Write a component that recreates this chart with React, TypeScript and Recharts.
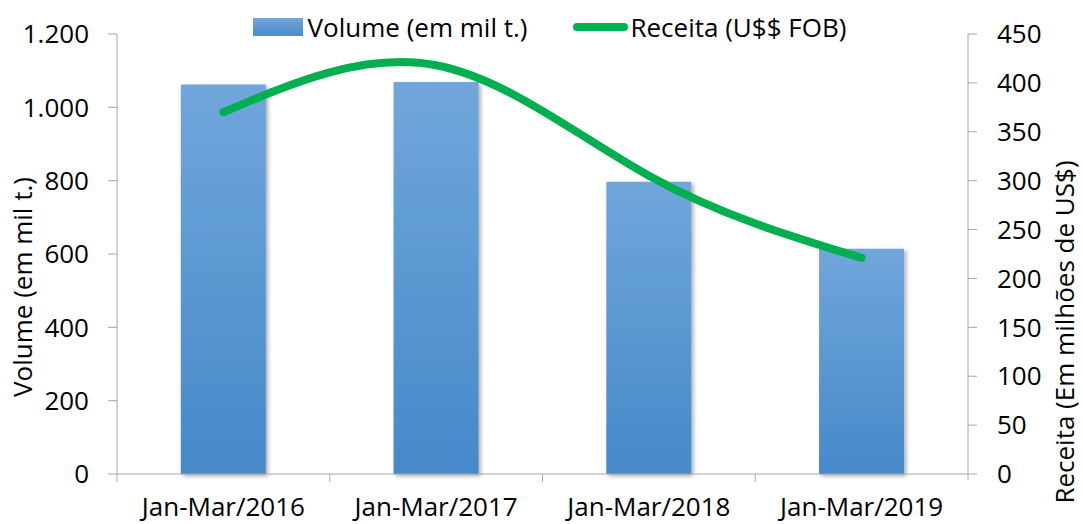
import React from "react";
import { ComposedChart, Bar, Line, XAxis, YAxis, Legend } from "recharts";

const categories = ["Jan-Mar/2016", "Jan-Mar/2017", "Jan-Mar/2018", "Jan-Mar/2019"];
const volume = [1062, 1069, 797, 614];
const receita = [370, 418, 305, 221];
const leftTicks = [0, 200, 400, 600, 800, 1000, 1200];
const rightTicks = [0, 50, 100, 150, 200, 250, 300, 350, 400, 450];

const volumeName = "Volume (em mil t.)";
const receitaName = "Receita (U$$ FOB)";
const leftTitle = "Volume (em mil t.)";
const rightTitle = "Receita (Em milhões de US$)";

const data = categories.map((c, i) => ({ cat: c, volume: volume[i], receita: receita[i] }));

const FONT = "'Open Sans', 'Noto Sans', sans-serif";
const FS = 26;
const AXIS = "#a6a6a6";
const GREEN = "#00B050";

const fmtThousands = (v: number) => v.toString().replace(/\B(?=(\d{3})+(?!\d))/g, ".");

const XTick = (props: any) => {
  const { x, y, payload, index, width } = props;
  const half = width / (categories.length * 2);
  const axisY = y;
  return (
    <g>
      <line x1={x - half} x2={x - half} y1={axisY} y2={axisY + 8} stroke={AXIS} strokeWidth={1} />
      {index === categories.length - 1 && (
        <line x1={x + half} x2={x + half} y1={axisY} y2={axisY + 6} stroke={AXIS} strokeWidth={1} />
      )}
      <text x={x} y={axisY + 42} textAnchor="middle" fontSize={FS} fontFamily={FONT} fill="#000">
        {payload.value}
      </text>
    </g>
  );
};

const LeftLabel = (props: any) => {
  const { viewBox } = props;
  const cx = viewBox.x + 22;
  const cy = viewBox.y + viewBox.height / 2 + 33;
  return (
    <text x={cx} y={cy} transform={`rotate(-90, ${cx}, ${cy})`} textAnchor="middle" dominantBaseline="central" fontSize={FS} fontFamily={FONT} fill="#000">
      {leftTitle}
    </text>
  );
};

const RightLabel = (props: any) => {
  const { viewBox } = props;
  const cx = viewBox.x + 96;
  const cy = viewBox.y + viewBox.height / 2 + 78;
  return (
    <text x={cx} y={cy} transform={`rotate(-90, ${cx}, ${cy})`} textAnchor="middle" dominantBaseline="central" fontSize={FS} fontFamily={FONT} fill="#000">
      {rightTitle}
    </text>
  );
};

const LegendContent = () => (
  <div style={{ display: "flex", justifyContent: "center", alignItems: "center", fontFamily: FONT, fontSize: FS, color: "#000", paddingLeft: 16, lineHeight: "30px" }}>
    <div style={{ width: 50, height: 18, background: "linear-gradient(#70a6db, #4a8bca)", marginRight: 5 }} />
    <span>{volumeName}</span>
    <div style={{ width: 55, height: 8, borderRadius: 4, background: GREEN, marginLeft: 46, marginRight: 2 }} />
    <span>{receitaName}</span>
  </div>
);

export default function App() {
  return (
    <div style={{ position: "absolute", left: 0, top: 0, width: 1083, height: 524, background: "#fff" }}>
      <ComposedChart width={1083} height={524} data={data} margin={{ top: 34, right: 0, bottom: 0, left: 0 }} barCategoryGap="30%">
        <defs>
          <linearGradient id="barGrad" x1="0" y1="0" x2="0" y2="1">
            <stop offset="0%" stopColor="#70a6db" />
            <stop offset="100%" stopColor="#4589c9" />
          </linearGradient>
          <filter id="barShadow" x="-20%" y="-20%" width="140%" height="140%">
            <feDropShadow dx="2" dy="2" stdDeviation="2" floodColor="#000" floodOpacity="0.35" />
          </filter>
        </defs>
        <Legend verticalAlign="middle" align="center" layout="horizontal" content={<LegendContent />} wrapperStyle={{ top: 12, left: 0, width: 1083 }} />
        <XAxis dataKey="cat" height={50} axisLine={{ stroke: AXIS }} tickLine={false} tickSize={0} tickMargin={0} tick={<XTick />} interval={0} />
        <YAxis
          yAxisId="left"
          width={117}
          domain={[0, 1200]}
          ticks={leftTicks}
          tickFormatter={fmtThousands}
          axisLine={{ stroke: AXIS }}
          tickLine={{ stroke: AXIS }}
          tickSize={9}
          tickMargin={19}
          tick={{ fontSize: FS, fontFamily: FONT, fill: "#000" }}
          label={<LeftLabel />}
        />
        <YAxis
          yAxisId="right"
          orientation="right"
          width={115}
          domain={[0, 450]}
          ticks={rightTicks}
          axisLine={{ stroke: AXIS }}
          tickLine={{ stroke: AXIS }}
          tickSize={9}
          tickMargin={20}
          tick={{ fontSize: FS, fontFamily: FONT, fill: "#000" }}
          label={<RightLabel />}
        />
        <Bar yAxisId="left" dataKey="volume" name={volumeName} fill="url(#barGrad)" filter="url(#barShadow)" isAnimationActive={false} />
        <Line yAxisId="right" dataKey="receita" name={receitaName} type="natural" stroke={GREEN} strokeWidth={8} strokeLinecap="round" dot={false} activeDot={false} isAnimationActive={false} />
      </ComposedChart>
    </div>
  );
}
